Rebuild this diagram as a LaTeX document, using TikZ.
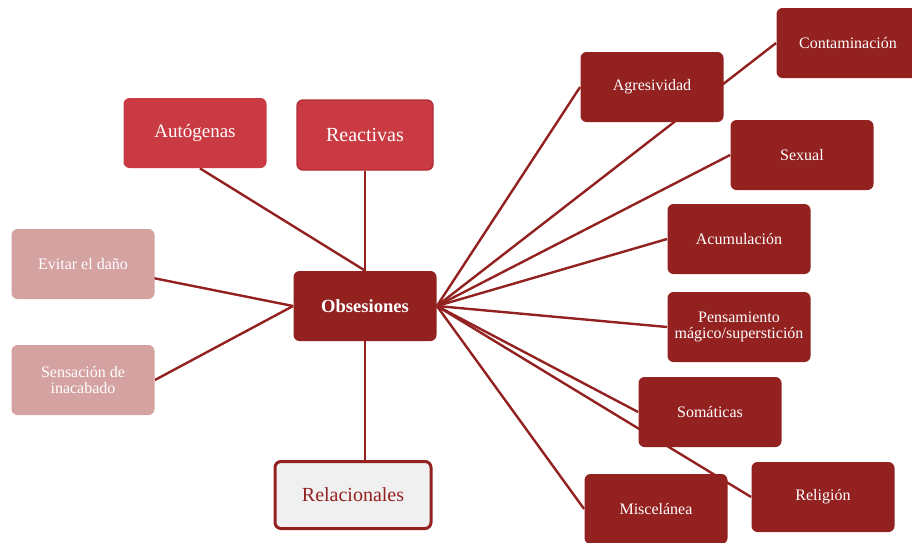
\documentclass[tikz,border=0pt]{standalone}
\usepackage{fontspec}
\setmainfont{Liberation Serif}
\usetikzlibrary{backgrounds}
\definecolor{obsred}{RGB}{146,33,32}
\definecolor{brightred}{RGB}{201,58,66}
\definecolor{edgered}{RGB}{178,44,52}
\definecolor{palered}{RGB}{213,162,162}
\definecolor{palegrey}{RGB}{240,240,240}
\begin{document}
\begin{tikzpicture}[x=0.5pt,y=-0.5pt,
    box/.style={rounded corners=3pt,minimum width=71.5pt,minimum height=35pt,inner sep=2pt,align=center,text=white,font=\fontsize{8}{8}\selectfont},
    subbox/.style={box,fill=obsred},
    kindbox/.style={box,fill=brightred,font=\fontsize{9.5}{10}\selectfont},
    motivebox/.style={box,fill=palered},
    link/.style={draw=obsred,line width=1.2pt}]
  \useasboundingbox (0,0) rectangle (912,542);
  \node[box,fill=obsred,font=\fontsize{9.3}{10}\selectfont\bfseries] (obs) at (365,306) {Obsesiones};
  \node[kindbox] (auto) at (195,133) {Autógenas};
  \node[kindbox,draw=edgered,line width=0.7pt,minimum width=68pt,font=\fontsize{10}{10}\selectfont] (react) at (365,135) {Reactivas};
  \node[motivebox] (evit) at (83,264) {Evitar el daño};
  \node[motivebox] (sens) at (83,380) {Sensación de\\inacabado};
  \node[box,fill=palegrey,draw=obsred,line width=1.5pt,text=obsred,minimum width=78pt,minimum height=33.5pt,font=\fontsize{10}{10}\selectfont] (rel) at (353,495) {Relacionales};
  \node[subbox] (agre) at (652,87) {Agresividad};
  \node[subbox] (cont) at (848,43) {Contaminación};
  \node[subbox] (sex) at (802,155) {Sexual};
  \node[subbox] (acum) at (739,239) {Acumulación};
  \node[subbox] (pens) at (739,327) {Pensamiento\\mágico/superstición};
  \node[subbox] (soma) at (710,412) {Somáticas};
  \node[subbox] (relig) at (823,497) {Religión};
  \node[subbox] (misc) at (656,509) {Miscelánea};
  \begin{scope}[on background layer]
    \draw[link] ([xshift=2.5pt]auto.south) -- (obs.north);
    \draw[link] (react) -- (obs);
    \draw[link] (obs.west) -- (evit.center);
    \draw[link] (obs.west) -- (sens.east);
    \draw[link] (obs.south) -- (obs.south |- rel.north);
    \foreach \t in {agre,cont,sex,acum,pens,soma,relig,misc}
      \draw[link] (obs.east) -- (\t.west);
  \end{scope}
\end{tikzpicture}
\end{document}
